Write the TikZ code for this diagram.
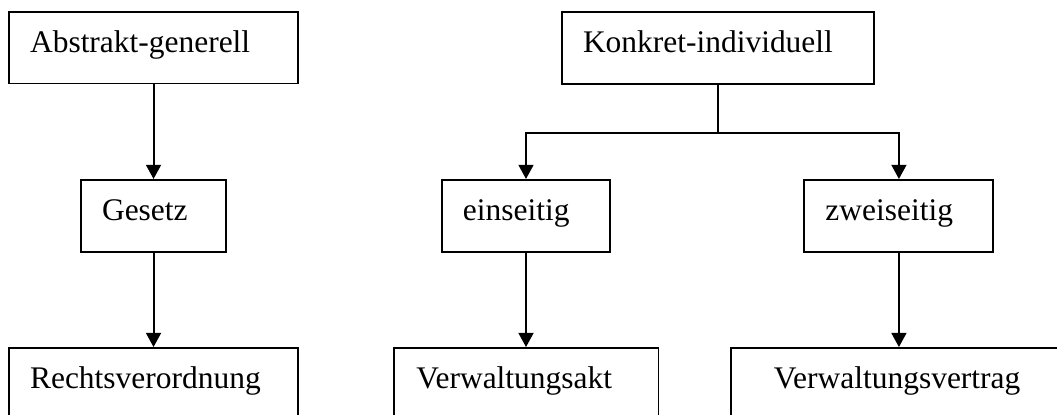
\documentclass[tikz,border=0pt]{standalone}
\usepackage{fontspec}
\setmainfont{Liberation Serif}
\usetikzlibrary{arrows.meta}

\begin{document}
\begin{tikzpicture}[
    box/.style={
      draw=black,
      line width=0.75pt,
      minimum height=0.965cm,
      align=left,
      inner xsep=0pt,
      inner ysep=0pt,
      text height=0.7em,
      text depth=0.35em,
      font=\fontsize{12}{14}\selectfont,
    },
    arrow/.style={
      -{Triangle[length=0.19cm,width=0.2cm]},
      line width=0.75pt,
      draw=black,
    },
  ]
    \useasboundingbox (0,0) rectangle (14.169,-5.550);
    % left column
    \node[box, minimum width=3.874cm, text width=3.31cm] (abstrakt) at (2.058,-0.637) {Abstrakt-generell};
    \node[box, minimum width=1.944cm, text width=1.38cm] (gesetz) at (2.058,-2.895) {Gesetz};
    \node[box, minimum width=3.874cm, text width=3.31cm] (recht) at (2.058,-5.148) {Rechtsverordnung};
    % right part
    \node[box, minimum width=4.182cm, text width=3.62cm] (konkret) at (9.625,-0.643) {Konkret-individuell};
    \node[box, minimum width=2.252cm, text width=1.69cm] (einseitig) at (7.051,-2.895) {einseitig};
    \node[box, minimum width=2.534cm, text width=1.97cm] (zweiseitig) at (12.05,-2.895) {zweiseitig};
    \node[box, minimum width=3.552cm, text width=2.94cm] (vakt) at (7.051,-5.148) {Verwaltungsakt};
    \node[box, minimum width=4.504cm, text width=3.35cm] (vvertrag) at (12.05,-5.148) {\mbox{Verwaltungsvertrag}};
    \coordinate (split) at (9.625,-1.783);
    \draw[arrow] (abstrakt) -- (gesetz);
    \draw[arrow] (gesetz) -- (recht);
    \draw[line width=0.75pt] (konkret) -- (split);
    \draw[arrow] (split) -| (einseitig);
    \draw[arrow] (split) -| (zweiseitig);
    \draw[arrow] (einseitig) -- (vakt);
    \draw[arrow] (zweiseitig) -- (vvertrag);
  \end{tikzpicture}
\end{document}
